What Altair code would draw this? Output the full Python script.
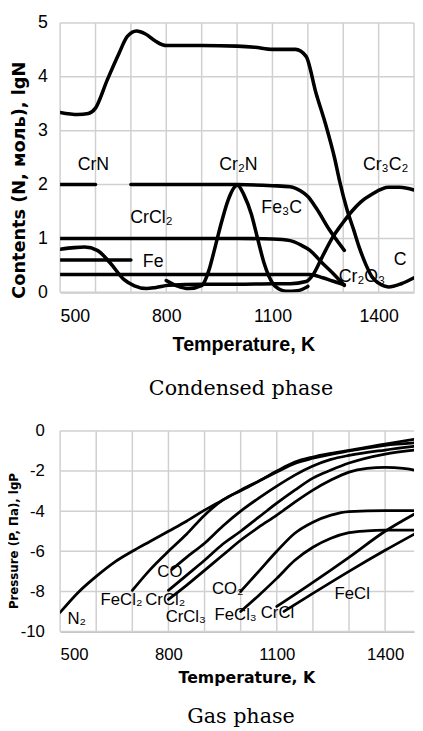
import altair as alt
import pandas as pd

# ---------------- Condensed phase (top panel) ----------------
C_T = [500, 550, 580, 600, 633, 666, 690, 716, 740, 770, 800, 900, 1000, 1050, 1100, 1165, 1195,
       1223, 1251, 1276, 1290, 1310, 1330, 1345, 1365, 1381, 1400, 1428, 1464, 1500]
C_V = [3.34, 3.30, 3.32, 3.42, 3.94, 4.43, 4.75, 4.85, 4.80, 4.66, 4.58, 4.58, 4.57, 4.55, 4.51, 4.51, 4.38,
       3.70, 3.10, 2.48, 2.06, 1.55, 1.15, 0.84, 0.50, 0.29, 0.17, 0.10, 0.16, 0.27]
CRN_T = [500, 600]
CRN_V = [2.0, 2.0]
CR2N_T = [700, 800, 900, 1000, 1100, 1150, 1180, 1200, 1225, 1260, 1303]
CR2N_V = [2.0, 2.0, 2.0, 2.0, 1.98, 1.96, 1.88, 1.78, 1.55, 1.17, 0.78]
FE3C_T = [800, 830, 863, 901, 920, 938, 956, 974, 1001, 1020, 1040, 1058, 1076, 1090, 1110, 1140, 1170, 1200]
FE3C_V = [0.22, 0.12, 0.07, 0.13, 0.40, 0.84, 1.30, 1.70, 1.99, 1.80, 1.46, 1.00, 0.55, 0.30, 0.10, 0.02, 0.03, 0.11]
CRCL2_T = [500, 700, 900, 1000, 1100, 1150, 1180, 1206, 1240, 1270, 1303]
CRCL2_V = [1.0, 1.0, 1.0, 1.0, 0.99, 0.96, 0.88, 0.78, 0.55, 0.36, 0.13]
CR2O3_T = [500, 800, 1000, 1206, 1242, 1270, 1303]
CR2O3_V = [0.33, 0.33, 0.33, 0.33, 0.27, 0.21, 0.14]
FE_T = [500, 700]
FE_V = [0.6, 0.6]
CR3C2_T = [500, 540, 569, 605, 641, 680, 710, 744, 771, 807, 900, 1000, 1104, 1150, 1195, 1215, 1240,
           1270, 1300, 1325, 1350, 1381, 1428, 1460, 1500]
CR3C2_V = [0.80, 0.83, 0.84, 0.78, 0.55, 0.24, 0.12, 0.07, 0.09, 0.13, 0.15, 0.15, 0.16, 0.16, 0.20, 0.33, 0.65,
           1.02, 1.30, 1.51, 1.68, 1.82, 1.95, 1.95, 1.90]

COND_LABELS = ["CrN", "Cr₂N", "Cr₃C₂", "CrCl₂", "Fe₃C", "Fe", "Cr₂O₃", "C"]
COND_LABEL_T = [594, 1004, 1420, 758, 1126, 763, 1353, 1461]
COND_LABEL_V = [2.37, 2.37, 2.37, 1.37, 1.57, 0.57, 0.29, 0.60]

# ---------------- Gas phase (bottom panel) ----------------
N2_T = [500, 550, 600, 650, 700, 750, 800, 850, 900, 950, 1000, 1050, 1100, 1150, 1200, 1250, 1300, 1400, 1480]
N2_V = [-9.05, -8.05, -7.25, -6.55, -6.0, -5.5, -5.0, -4.5, -3.95, -3.45, -2.95, -2.5, -2.0, -1.55, -1.3, -1.12,
        -0.97, -0.65, -0.42]
FECL2_T = [700, 750, 800, 850, 900, 950, 1000, 1100, 1150, 1200, 1300, 1400, 1480]
FECL2_V = [-7.95, -6.9, -6.0, -5.15, -4.2, -3.45, -2.98, -2.05, -1.62, -1.36, -1.0, -0.72, -0.6]
CO_T = [810, 850, 900, 950, 1000, 1050, 1100, 1150, 1200, 1250, 1300, 1400, 1480]
CO_V = [-6.9, -6.3, -5.6, -4.75, -4.0, -3.35, -2.75, -2.2, -1.75, -1.42, -1.22, -0.95, -0.77]
GCRCL2_T = [800, 850, 900, 950, 1000, 1050, 1100, 1150, 1200, 1250, 1300, 1400, 1480]
GCRCL2_V = [-7.95, -7.2, -6.45, -5.65, -5.0, -4.3, -3.6, -2.95, -2.35, -1.95, -1.6, -1.15, -0.96]
CRCL3_T = [800, 850, 900, 950, 1000, 1050, 1100, 1150, 1200, 1250, 1300, 1350, 1400, 1450, 1480]
CRCL3_V = [-8.4, -7.7, -6.95, -6.2, -5.45, -4.8, -4.2, -3.55, -2.95, -2.45, -2.05, -1.87, -1.82, -1.87, -1.95]
CO2_T = [1000, 1050, 1100, 1150, 1200, 1250, 1300, 1400, 1480]
CO2_V = [-8.0, -7.0, -6.0, -5.1, -4.55, -4.2, -4.02, -3.97, -3.97]
FECL3_T = [1000, 1050, 1100, 1150, 1200, 1250, 1300, 1350, 1400, 1480]
FECL3_V = [-9.0, -8.2, -7.35, -6.45, -5.8, -5.35, -5.07, -4.98, -4.95, -4.95]
CRCL_T = [1100, 1200, 1300, 1400, 1480]
CRCL_V = [-8.75, -7.55, -6.3, -5.0, -4.15]
FECL_T = [1120, 1200, 1300, 1400, 1480]
FECL_V = [-9.0, -8.1, -7.0, -5.95, -5.15]

GAS_LABELS = ["N₂", "FeCl₂", "CrCl₂", "CO", "CrCl₃", "CO₂", "FeCl₃", "CrCl", "FeCl"]
GAS_LABEL_T = [546, 670, 791, 804, 848, 964, 986, 1102, 1309]
GAS_LABEL_V = [-9.4, -8.43, -8.43, -7.06, -9.27, -7.9, -9.17, -9.07, -8.14]

# ---------------- ticks / gridlines ----------------
X_TICKS = [500, 800, 1100, 1400]
TOP_X_GRID = [500, 600, 700, 800, 900, 1000, 1100, 1200, 1300, 1400, 1500]
BOT_X_GRID = [500, 600, 700, 800, 900, 1000, 1100, 1200, 1300, 1400]
TOP_Y_TICKS = [0, 1, 2, 3, 4, 5]
BOT_Y_TICKS = [-10, -8, -6, -4, -2, 0]


def build(series):
    rows = []
    for name, (ts, vs) in series.items():
        for i, (t, v) in enumerate(zip(ts, vs)):
            rows.append({"series": name, "T": t, "v": v, "i": i})
    return pd.DataFrame(rows)


cond_df = build({
    "C": (C_T, C_V), "CrN": (CRN_T, CRN_V), "Cr2N": (CR2N_T, CR2N_V), "Fe3C": (FE3C_T, FE3C_V),
    "CrCl2": (CRCL2_T, CRCL2_V), "Cr2O3": (CR2O3_T, CR2O3_V), "Fe": (FE_T, FE_V), "Cr3C2": (CR3C2_T, CR3C2_V),
})
gas_df = build({
    "N2": (N2_T, N2_V), "FeCl2": (FECL2_T, FECL2_V), "CO": (CO_T, CO_V), "CrCl2": (GCRCL2_T, GCRCL2_V),
    "CrCl3": (CRCL3_T, CRCL3_V), "CO2": (CO2_T, CO2_V), "FeCl3": (FECL3_T, FECL3_V),
    "CrCl": (CRCL_T, CRCL_V), "FeCl": (FECL_T, FECL_V),
})
cond_lab = pd.DataFrame({"label": COND_LABELS, "T": COND_LABEL_T, "v": COND_LABEL_V})
gas_lab = pd.DataFrame({"label": GAS_LABELS, "T": GAS_LABEL_T, "v": GAS_LABEL_V})

GRID = "#d0d0d0"
GW = 1.5


def title_text(text, px, py, font, size, angle=0):
    return alt.Chart(pd.DataFrame({"t": [text]})).mark_text(
        font=font, fontSize=size, fontWeight="bold", color="black", angle=angle,
        align="center", baseline="middle").encode(text="t:N", x=alt.value(px), y=alt.value(py))


def panel(lines_df, lab_df, xgrid, ygrid, xdom, ydom, lab_size, line_w, x_axis, y_axis,
          w, h, caption, cap_offset, titles):
    xs = alt.Scale(domain=xdom, nice=False, zero=False)
    ys = alt.Scale(domain=ydom, nice=False, zero=False)
    X = alt.X("T:Q", scale=xs, axis=x_axis, title=None)
    Y = alt.Y("v:Q", scale=ys, axis=y_axis, title=None)
    vgrid = alt.Chart(pd.DataFrame({"T": xgrid})).mark_rule(color=GRID, strokeWidth=GW).encode(
        x=X, y=alt.value(0), y2=alt.value(h))
    hgrid = alt.Chart(pd.DataFrame({"v": ygrid})).mark_rule(color=GRID, strokeWidth=GW).encode(
        y=Y, x=alt.value(0), x2=alt.value(w))
    lines = alt.Chart(lines_df).mark_line(color="black", strokeWidth=line_w, interpolate="monotone",
                                          clip=True, strokeCap="round").encode(
        x=X, y=Y, detail="series:N", order="i:Q")
    text = alt.Chart(lab_df).mark_text(font="Liberation Sans", fontSize=lab_size, color="black",
                                       align="center", baseline="middle").encode(
        x=X, y=Y, text="label:N")
    return alt.layer(vgrid, hgrid, lines, text, *titles).properties(
        width=w, height=h,
        title=alt.TitleParams(caption, orient="bottom", anchor="middle", frame="group", offset=cap_offset,
                              dx=4, font="DejaVu Serif", fontSize=21, fontWeight="normal", color="black"))


top_x_axis = alt.Axis(values=X_TICKS, format="d", labelOverlap=False, grid=False, ticks=False,
                      domainColor="#b0b0b0", domainWidth=1.3,
                      labelFont="Liberation Sans", labelFontSize=18, labelColor="black", labelPadding=16)
top_y_axis = alt.Axis(values=TOP_Y_TICKS, grid=False, domain=False, ticks=False, labelOverlap=False,
                      labelFont="Liberation Sans", labelFontSize=18, labelColor="black", labelPadding=13)
bot_x_axis = alt.Axis(values=X_TICKS, format="d", labelOverlap=False, grid=False, ticks=False,
                      domainColor="#b0b0b0", domainWidth=1.3,
                      labelFont="Liberation Sans", labelFontSize=17, labelColor="black", labelPadding=15)
bot_y_axis = alt.Axis(values=BOT_Y_TICKS, labelExpr="'' + datum.value", grid=False, domain=False, ticks=False,
                      labelOverlap=False, labelFont="Liberation Sans", labelFontSize=17, labelColor="black",
                      labelPadding=16)

top_titles = [
    title_text("Temperature, K", 187, 328, "Liberation Sans", 20),
    title_text("Contents (N, моль), lgN", -41, 160, "DejaVu Sans", 18, angle=270),
]
bot_titles = [
    title_text("Temperature, K", 190, 251, "DejaVu Sans", 16),
    title_text("Pressure (P, Па), lgP", -47, 112, "DejaVu Sans", 12, angle=270),
]

top = panel(cond_df, cond_lab, TOP_X_GRID, TOP_Y_TICKS, [500, 1500], [0, 5], 18, 3.6,
            top_x_axis, top_y_axis, 360, 274, "Condensed phase", 23, top_titles)
bottom = panel(gas_df, gas_lab, BOT_X_GRID, BOT_Y_TICKS, [500, 1480], [-10, 0], 17, 2.8,
               bot_x_axis, bot_y_axis, 360, 204, "Gas phase", 21, bot_titles)

chart = alt.vconcat(top, bottom, spacing=24).properties(
    padding={"left": 0, "top": 0, "right": 0, "bottom": 0}
).configure_view(stroke=None)

chart.save("out.html", embed_options={"renderer": "svg", "actions": False})
